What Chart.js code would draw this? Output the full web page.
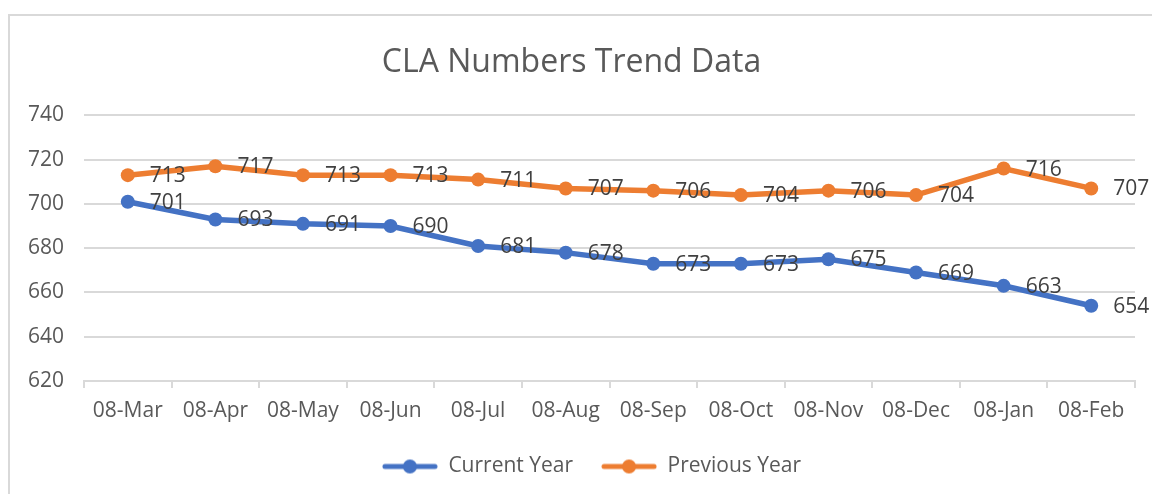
<!DOCTYPE html>
<html>
<head>
<meta charset="utf-8">
<script src="https://cdn.jsdelivr.net/npm/chart.js@4"></script>
<style>
  html, body { margin: 0; padding: 0; background: #fff; }
  #wrap { width: 1152px; height: 494px; }
</style>
</head>
<body>
<div id="wrap"><canvas id="trendChart" width="1152" height="494"></canvas></div>
<script>
const months = ['08-Mar', '08-Apr', '08-May', '08-Jun', '08-Jul', '08-Aug', '08-Sep', '08-Oct', '08-Nov', '08-Dec', '08-Jan', '08-Feb'];
const currentYear = [701, 693, 691, 690, 681, 678, 673, 673, 675, 669, 663, 654];
const previousYear = [713, 717, 713, 713, 711, 707, 706, 704, 706, 704, 716, 707];
const yTicks = [620, 640, 660, 680, 700, 720, 740];

const BLUE = '#4472C4';
const ORANGE = '#ED7D31';
const FONT = "'Open Sans', 'Liberation Sans', sans-serif";

// legend marker: line with a dot in the middle
function legendMarker(color) {
    const c = document.createElement('canvas');
    c.width = 56;
    c.height = 16;
    const g = c.getContext('2d');
    g.strokeStyle = color;
    g.lineWidth = 5;
    g.lineCap = 'round';
    g.beginPath();
    g.moveTo(3, 8);
    g.lineTo(53, 8);
    g.stroke();
    g.fillStyle = color;
    g.beginPath();
    g.arc(28, 8, 7, 0, Math.PI * 2);
    g.fill();
    return c;
}

const frame = {
    id: 'frame',
    beforeDraw(chart) {
        const ctx = chart.ctx;
        ctx.save();
        ctx.strokeStyle = '#d9d9d9';
        ctx.lineWidth = 2;
        ctx.strokeRect(9, 15, 1160, 500);
        ctx.restore();
    },
    afterLayout(chart) {
        // Excel sits the legend a bit right of centre
        chart.legend.left += 20;
        chart.legend.right += 20;
    }
};

const valueLabels = {
    id: 'valueLabels',
    afterDatasetsDraw(chart) {
        const ctx = chart.ctx;
        ctx.save();
        ctx.font = '21px ' + FONT;
        ctx.fillStyle = '#404040';
        ctx.textAlign = 'left';
        ctx.textBaseline = 'middle';
        chart.data.datasets.forEach((ds, i) => {
            chart.getDatasetMeta(i).data.forEach((pt, j) => {
                ctx.fillText(ds.data[j], pt.x + 22, pt.y + 1);
            });
        });
        ctx.restore();
    }
};

new Chart(document.getElementById('trendChart'), {
    type: 'line',
    data: {
        labels: months,
        datasets: [{
            label: 'Current Year',
            data: currentYear,
            borderColor: BLUE,
            backgroundColor: BLUE,
            borderWidth: 5.5,
            pointRadius: 7,
            pointBorderWidth: 0,
            pointStyle: 'circle',
            tension: 0
        }, {
            label: 'Previous Year',
            data: previousYear,
            borderColor: ORANGE,
            backgroundColor: ORANGE,
            borderWidth: 5.5,
            pointRadius: 7,
            pointBorderWidth: 0,
            pointStyle: 'circle',
            tension: 0
        }]
    },
    options: {
        responsive: false,
        animation: false,
        layout: { padding: { top: 14, left: 8, right: 17, bottom: 7 } },
        plugins: {
            title: {
                display: true,
                text: 'CLA Numbers Trend Data',
                color: '#595959',
                font: { family: FONT, size: 32, weight: 'normal', lineHeight: 1.2 },
                padding: { top: 30, bottom: 33 }
            },
            legend: {
                position: 'bottom',
                labels: {
                    usePointStyle: true,
                    pointStyleWidth: 56,
                    color: '#595959',
                    font: { family: FONT, size: 21 },
                    padding: 28,
                    generateLabels(chart) {
                        return chart.data.datasets.map((ds, i) => ({
                            text: ds.label,
                            pointStyle: legendMarker(ds.borderColor),
                            fontColor: '#595959',
                            lineWidth: 0,
                            hidden: false,
                            datasetIndex: i
                        }));
                    }
                }
            },
            tooltip: { enabled: false }
        },
        scales: {
            x: {
                offset: true,
                afterFit(scale) { scale.height = 47; },
                grid: {
                    display: true,
                    drawOnChartArea: false,
                    drawTicks: true,
                    tickLength: 7,
                    offset: true,
                    color: '#d9d9d9',
                    lineWidth: 2
                },
                border: { display: true, color: '#d9d9d9', width: 2 },
                ticks: {
                    color: '#595959',
                    font: { family: FONT, size: 21 },
                    padding: 10,
                    maxRotation: 0,
                    autoSkip: false
                }
            },
            y: {
                min: 620,
                max: 740,
                afterBuildTicks(scale) {
                    scale.ticks = yTicks.map(v => ({ value: v }));
                },
                afterFit(scale) { scale.width = 76; },
                grid: {
                    color: '#d9d9d9',
                    lineWidth: 2,
                    drawTicks: false
                },
                border: { display: false },
                ticks: {
                    color: '#595959',
                    font: { family: FONT, size: 21 },
                    padding: 20
                }
            }
        }
    },
    plugins: [frame, valueLabels]
});
</script>
</body>
</html>
